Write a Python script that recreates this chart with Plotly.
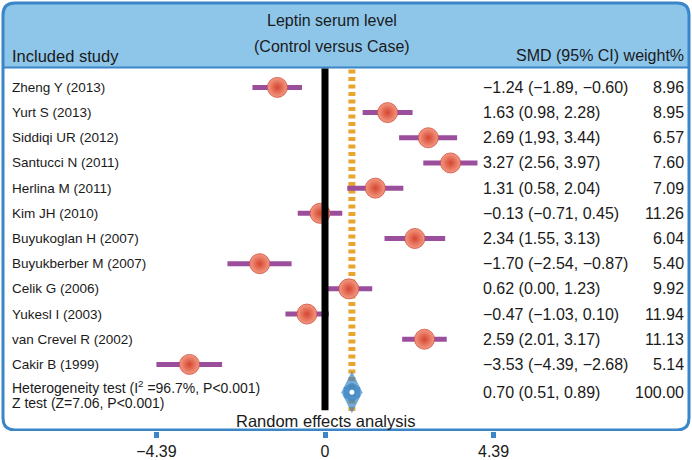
import plotly.graph_objects as go

studies = ["Zheng Y (2013)", "Yurt S (2013)", "Siddiqi UR (2012)", "Santucci N (2011)",
           "Herlina M (2011)", "Kim JH (2010)", "Buyukoglan H (2007)", "Buyukberber M (2007)",
           "Celik G (2006)", "Yukesl I (2003)", "van Crevel R (2002)", "Cakir B (1999)"]
smd = [-1.24, 1.63, 2.69, 3.27, 1.31, -0.13, 2.34, -1.70, 0.62, -0.47, 2.59, -3.53]
ci_low = [-1.89, 0.98, 1.93, 2.56, 0.58, -0.71, 1.55, -2.54, 0.00, -1.03, 2.01, -4.39]
ci_high = [-0.60, 2.28, 3.44, 3.97, 2.04, 0.45, 3.13, -0.87, 1.23, 0.10, 3.17, -2.68]
ci_text = ["−1.24 (−1.89, −0.60)", "1.63 (0.98, 2.28)", "2.69 (1,93, 3.44)", "3.27 (2.56, 3.97)",
           "1.31 (0.58, 2.04)", "−0.13 (−0.71, 0.45)", "2.34 (1.55, 3.13)", "−1.70 (−2.54, −0.87)",
           "0.62 (0.00, 1.23)", "−0.47 (−1.03, 0.10)", "2.59 (2.01, 3.17)", "−3.53 (−4.39, −2.68)"]
weights = ["8.96", "8.95", "6.57", "7.60", "7.09", "11.26", "6.04", "5.40", "9.92", "11.94", "11.13", "5.14"]

pooled = 0.70
pooled_low = 0.51
pooled_high = 0.89
pooled_text = "0.70 (0.51, 0.89)"
pooled_weight = "100.00"

tick_vals = [-4.39, 0, 4.39]
tick_text = ["−4.39", "0", "4.39"]

W, H = 692, 460
B = 26
PH = H - B
X0, XS = 325.0, 38.4      # pixel of x=0, pixels per unit
Y0, YS = 88.0, 25.36      # pixel of row 0, pixels per row


def X(px):
    return (px - X0) / XS


def Y(py):
    return (py - Y0) / YS


BLUE = "#3A86C8"
HEAD = "#8EC6EA"
PURPLE = "#9A4E9C"
ORANGE = "#E8A530"
FONT = "Liberation Sans, Arial, sans-serif"
TXT = "#1a1a1a"

rows = list(range(len(studies)))
pooled_row = Y(395)

fig = go.Figure()


def rounded_path(x1, y1, x2, y2, r, top_only=False):
    if top_only:
        return (f"M {X(x1)},{Y(y2)} L {X(x1)},{Y(y1 + r)} Q {X(x1)},{Y(y1)} {X(x1 + r)},{Y(y1)} "
                f"L {X(x2 - r)},{Y(y1)} Q {X(x2)},{Y(y1)} {X(x2)},{Y(y1 + r)} L {X(x2)},{Y(y2)} Z")
    return (f"M {X(x1)},{Y(y1 + r)} Q {X(x1)},{Y(y1)} {X(x1 + r)},{Y(y1)} "
            f"L {X(x2 - r)},{Y(y1)} Q {X(x2)},{Y(y1)} {X(x2)},{Y(y1 + r)} "
            f"L {X(x2)},{Y(y2 - r)} Q {X(x2)},{Y(y2)} {X(x2 - r)},{Y(y2)} "
            f"L {X(x1 + r)},{Y(y2)} Q {X(x1)},{Y(y2)} {X(x1)},{Y(y2 - r)} Z")


shapes = [
    dict(type="path", path=rounded_path(3, 3, 689, 68, 12, top_only=True),
         fillcolor=HEAD, line=dict(width=0), layer="below"),
    dict(type="line", x0=X(3), x1=X(689), y0=Y(68), y1=Y(68), line=dict(color=BLUE, width=2)),
    dict(type="path", path=rounded_path(3, 3, 689, 433, 12), line=dict(color=BLUE, width=3)),
    # line of no effect
    dict(type="line", x0=0, x1=0, y0=Y(69), y1=Y(413), line=dict(color="black", width=7)),
    # pooled estimate dotted line
    dict(type="line", x0=pooled, x1=pooled, y0=Y(70), y1=Y(416),
         line=dict(color=ORANGE, width=7, dash="4px,3.5px"), layer="below"),
]

# CI bars + points
fig.add_trace(go.Scatter(
    x=smd, y=rows, mode="markers",
    error_x=dict(type="data", symmetric=False,
                 array=[h - s for h, s in zip(ci_high, smd)],
                 arrayminus=[s - l for s, l in zip(smd, ci_low)],
                 color=PURPLE, thickness=5, width=0),
    marker=dict(size=20, color="#F39A84", line=dict(width=0.8, color="#D0503C"),
                gradient=dict(type="radial", color="#D6452F")),
    hoverinfo="skip", showlegend=False))

# pooled diamond
fig.add_trace(go.Scatter(
    x=[pooled, pooled], y=[pooled_row, pooled_row], mode="markers",
    marker=dict(symbol=["diamond-tall", "hexagon"], size=[30, 19], color=BLUE, line=dict(width=0)),
    hoverinfo="skip", showlegend=False))
fig.add_trace(go.Scatter(
    x=[pooled], y=[pooled_row], mode="markers",
    marker=dict(symbol="circle", size=5, color="white", line=dict(width=0)),
    hoverinfo="skip", showlegend=False))

ann = []
fs_l = 13.5
fs_r = 16
for i, s in enumerate(studies):
    ann.append(dict(x=X(10), y=i, text=s, xanchor="left", yanchor="middle", showarrow=False,
                    font=dict(size=fs_l, color=TXT, family=FONT)))
    ann.append(dict(x=X(481), y=i, text=ci_text[i], xanchor="left", yanchor="middle", showarrow=False,
                    font=dict(size=fs_r, color=TXT, family=FONT)))
    ann.append(dict(x=X(686), y=i, text=weights[i], xanchor="right", yanchor="middle", showarrow=False,
                    font=dict(size=fs_r, color=TXT, family=FONT)))

ann += [
    dict(x=X(10), y=Y(390), text="Heterogeneity test (I<sup>2</sup> =96.7%, P&lt;0.001)",
         xanchor="left", yanchor="middle", showarrow=False, font=dict(size=14, color=TXT, family=FONT)),
    dict(x=X(10), y=Y(406), text="Z test (Z=7.06, P&lt;0.001)",
         xanchor="left", yanchor="middle", showarrow=False, font=dict(size=14, color=TXT, family=FONT)),
    dict(x=X(481), y=pooled_row, text=pooled_text, xanchor="left", yanchor="middle", showarrow=False,
         font=dict(size=fs_r, color=TXT, family=FONT)),
    dict(x=X(686), y=pooled_row, text=pooled_weight, xanchor="right", yanchor="middle", showarrow=False,
         font=dict(size=fs_r, color=TXT, family=FONT)),
    dict(x=0, y=Y(424), text="Random effects analysis", xanchor="center", yanchor="middle", showarrow=False,
         font=dict(size=16.5, color=TXT, family=FONT)),
    dict(x=X(332), y=Y(21), text="Leptin serum level", xanchor="center", yanchor="middle", showarrow=False,
         font=dict(size=16, color=TXT, family=FONT)),
    dict(x=X(332), y=Y(47), text="(Control versus Case)", xanchor="center", yanchor="middle", showarrow=False,
         font=dict(size=16, color=TXT, family=FONT)),
    dict(x=X(10), y=Y(56), text="Included study", xanchor="left", yanchor="middle", showarrow=False,
         font=dict(size=16.5, color=TXT, family=FONT)),
    dict(x=X(686), y=Y(56), text="SMD (95% CI) weight%", xanchor="right", yanchor="middle", showarrow=False,
         font=dict(size=16, color=TXT, family=FONT)),
]

fig.update_layout(
    width=W, height=H,
    margin=dict(l=0, r=0, t=0, b=B),
    paper_bgcolor="white", plot_bgcolor="white",
    shapes=shapes, annotations=ann,
    xaxis=dict(range=[X(0), X(W)], tickvals=tick_vals, ticktext=tick_text,
               ticks="outside", ticklen=6, tickwidth=5, tickcolor=BLUE,
               showgrid=False, zeroline=False, showline=False,
               tickfont=dict(size=16, color=TXT, family=FONT), fixedrange=True),
    yaxis=dict(range=[Y(PH), Y(0)], visible=False, showgrid=False, zeroline=False, fixedrange=True),
)

fig.write_html("out.html", config={"displayModeBar": False},
               post_script="document.body.style.margin='0';document.body.style.overflow='hidden';")
